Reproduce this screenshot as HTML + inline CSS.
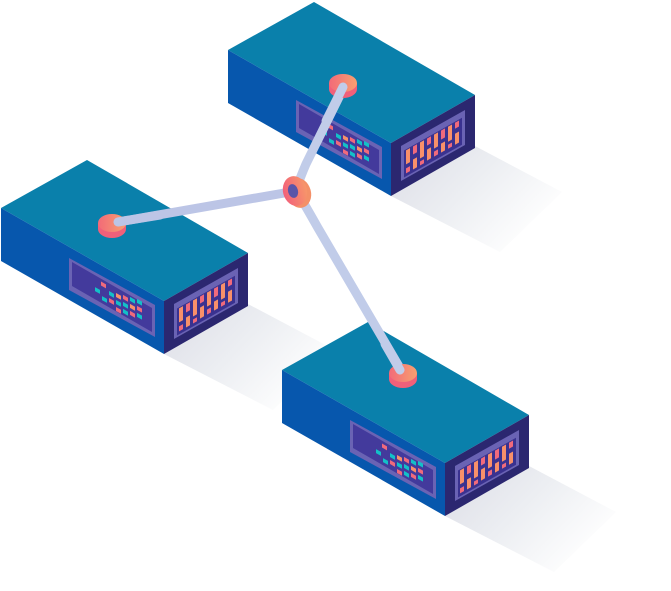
<!DOCTYPE html>
<html><head><meta charset="utf-8"><style>html,body{margin:0;padding:0;background:#fff;}svg{display:block}</style></head>
<body>
<svg width="671" height="591" viewBox="0 0 671 591" xmlns="http://www.w3.org/2000/svg">
<defs>
<linearGradient id="sh" x1="0" y1="0" x2="1" y2="0.6">
<stop offset="0" stop-color="#dcdde6"/><stop offset="0.5" stop-color="#eceef2"/><stop offset="1" stop-color="#ffffff"/>
</linearGradient>
<linearGradient id="pk" x1="0" y1="0" x2="1" y2="0"><stop offset="0" stop-color="#f2607a"/><stop offset="1" stop-color="#f7966a"/></linearGradient>
<linearGradient id="pkt" x1="0" y1="0" x2="1" y2="0"><stop offset="0" stop-color="#f26a78"/><stop offset="1" stop-color="#f8a070"/></linearGradient>
<g id="box">
<polygon points="163,146 247,96 334,142 272,202" fill="url(#sh)"/>
<polygon points="0,0 86,-48 247,45 163,93" fill="#0a80ab"/>
<polygon points="0,0 163,93 163,146 0,53" fill="#0757ad"/>
<polygon points="163,93 247,45 247,98 163,146" fill="#2b2770"/>
<polygon points="68,50 154,97 154,129 68,82" fill="#6a63b4"/>
<polygon points="71,54 151,100 151,124 71,78" fill="#433a9c"/>
<g transform="matrix(1,0.565,0,1,0,0)">
<rect x="100" y="17" width="5" height="4" fill="#f06a7c"/>
<rect x="94" y="26" width="5" height="4" fill="#13c0c8"/>
<rect x="108" y="22" width="5" height="4" fill="#13c0c8"/>
<rect x="115" y="20" width="5" height="4" fill="#f8906a"/>
<rect x="122" y="18" width="5" height="4" fill="#f06a7c"/>
<rect x="129" y="16" width="5" height="4" fill="#13c0c8"/>
<rect x="136" y="14" width="5" height="4" fill="#13c0c8"/>
<rect x="101" y="31" width="5" height="4" fill="#13c0c8"/>
<rect x="108" y="29" width="5" height="4" fill="#f06a7c"/>
<rect x="115" y="27" width="5" height="4" fill="#13c0c8"/>
<rect x="122" y="25" width="5" height="4" fill="#13c0c8"/>
<rect x="129" y="23" width="5" height="4" fill="#f8906a"/>
<rect x="136" y="21" width="5" height="4" fill="#f06a7c"/>
<rect x="115" y="34" width="5" height="4" fill="#f06a7c"/>
<rect x="122" y="32" width="5" height="4" fill="#13c0c8"/>
<rect x="129" y="30" width="5" height="4" fill="#f06a7c"/>
<rect x="136" y="28" width="5" height="4" fill="#13c0c8"/>
</g>
<polygon points="173,96 237,60 237,95 173,131" fill="#6a63b4"/>
<g transform="matrix(1,-0.565,0,1,0,0)">
<rect x="176" y="200" width="58" height="27" fill="#3a3290"/>
<rect x="178" y="201" width="4" height="14" fill="#f8906a"/>
<rect x="178" y="219" width="4" height="5" fill="#f06a7c"/>
<rect x="185" y="201" width="4" height="8" fill="#f06a7c"/>
<rect x="185" y="214" width="4" height="10" fill="#f8906a"/>
<rect x="192" y="201" width="4" height="16" fill="#f8906a"/>
<rect x="192" y="220" width="4" height="4" fill="#f06a7c"/>
<rect x="199" y="201" width="4" height="7" fill="#f06a7c"/>
<rect x="199" y="212" width="4" height="11" fill="#f8906a"/>
<rect x="206" y="201" width="4" height="14" fill="#f8906a"/>
<rect x="206" y="218" width="4" height="5" fill="#f06a7c"/>
<rect x="213" y="201" width="4" height="9" fill="#f06a7c"/>
<rect x="213" y="214" width="4" height="9" fill="#f8906a"/>
<rect x="220" y="201" width="4" height="15" fill="#f8906a"/>
<rect x="220" y="219" width="4" height="4" fill="#f06a7c"/>
<rect x="227" y="201" width="4" height="6" fill="#f06a7c"/>
<rect x="227" y="212" width="4" height="11" fill="#f8906a"/>
</g>
</g>
<g id="puck">
<path d="M-14,0 v6 a14,9 0 0 0 28,0 v-6 z" fill="#f0607a"/>
<ellipse cx="0" cy="0" rx="14" ry="9" fill="url(#pkt)"/>
</g>
</defs>

<use href="#box" transform="translate(228,50)"/>
<use href="#box" transform="translate(1,208)"/>
<use href="#box" transform="translate(282,370)"/>

<g stroke="#c1cce9" stroke-width="9" stroke-linecap="round" fill="none">
<path d="M343,89 L306,164 Q300,178 296,190"/>
<path d="M296,190 Q305,205 318,228 L404,375"/>
</g>
<line x1="112" y1="223" x2="290" y2="192" stroke="#bcc5e6" stroke-width="9"/>

<use href="#puck" transform="translate(343,83)"/>
<use href="#puck" transform="translate(112,223)"/>
<use href="#puck" transform="translate(403,373)"/>
<line x1="343" y1="87" x2="326" y2="121" stroke="#c1cce9" stroke-width="9" stroke-linecap="round"/>
<line x1="118" y1="222" x2="160" y2="215" stroke="#bcc5e6" stroke-width="9" stroke-linecap="round"/>
<line x1="400" y1="370" x2="385" y2="344" stroke="#c1cce9" stroke-width="9" stroke-linecap="round"/>

<ellipse cx="299" cy="193" rx="12" ry="15" fill="#f49068" transform="rotate(-15 299 193)"/>
<ellipse cx="295" cy="191" rx="12" ry="15" fill="url(#pk)" transform="rotate(-15 295 191)"/>
<ellipse cx="293" cy="191" rx="5" ry="7" fill="#5a55a8" transform="rotate(-15 293 191)"/>
</svg>
</body></html>
